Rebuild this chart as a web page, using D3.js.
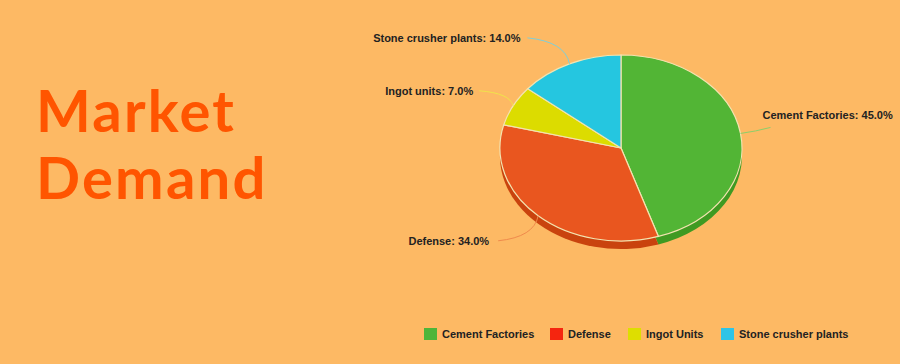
<!DOCTYPE html>
<html><head><meta charset="utf-8">
<script src="https://cdn.jsdelivr.net/npm/d3@7/dist/d3.min.js"></script>
<style>html,body{margin:0;padding:0;background:#fdb964;}svg{display:block}</style>
</head><body>
<script>
const categories = ["Cement Factories", "Defense", "Ingot units", "Stone crusher plants"];
const legendLabels = ["Cement Factories", "Defense", "Ingot Units", "Stone crusher plants"];
const values = [45.0, 34.0, 7.0, 14.0];
const sliceColors = ["#52b535", "#e9561f", "#dcdc00", "#25c6e0"];
const sideColors = ["#3f9a22", "#c9430e", "#b8b800", "#1aa3bb"];
const legendColors = ["#4db53a", "#f5250f", "#dede00", "#2ec4e6"];
const lineColors = ["#8ccf6a", "#f08a4c", "#f0e44a", "#7fcfd8"];

(function () {
const W = 900, H = 364;
const svg = d3.select("body").append("svg").attr("width", W).attr("height", H);
svg.append("rect").attr("width", W).attr("height", H).attr("fill", "#fdb964");

// Title
const title = svg.append("text").attr("fill", "#ff5500")
  .attr("font-family", "Lato, 'Open Sans', sans-serif").attr("font-weight", 700)
  .attr("font-size", 58).attr("letter-spacing", 2.2);
title.append("tspan").attr("x", 36).attr("y", 132).text("Market");
title.append("tspan").attr("x", 36).attr("y", 199).text("Demand");

// Pie
const cx = 621, cy = 148, rx = 121, ry = 93, depth = 8;
const pie = d3.pie().sort(null).value(d => d)(values);
const arc = d3.arc().innerRadius(0).outerRadius(1);

const sideG = svg.append("g").attr("transform", `translate(${cx},${cy + depth}) scale(${rx},${ry})`);
sideG.selectAll("path").data(pie).join("path")
  .attr("d", arc).attr("fill", (d, i) => sideColors[i]);

const topG = svg.append("g").attr("transform", `translate(${cx},${cy}) scale(${rx},${ry})`);
topG.selectAll("path").data(pie).join("path")
  .attr("d", arc).attr("fill", (d, i) => sliceColors[i])
  .attr("stroke", "#f3e3b0").attr("stroke-width", 1.2)
  .attr("vector-effect", "non-scaling-stroke");

// Labels with leader lines
const labelOffsets = [[30, -6], [-40, 25], [-34, -15], [-42, -26]];
const labelAnchors = ["start", "end", "end", "end"];
const labelNudge = [0, -3, 0, -1];
pie.forEach((d, i) => {
  const a = (d.startAngle + d.endAngle) / 2;
  const px = cx + rx * Math.sin(a), py = cy - ry * Math.cos(a);
  const lx = px + labelOffsets[i][0], ly = py + labelOffsets[i][1];
  const mx = i === 0 ? (px + lx) / 2 : px + (lx - px) * 0.1;
  const my = i === 0 ? (py + ly) / 2 + 1 : ly + (py - ly) * 0.15;
  svg.append("path")
    .attr("d", `M${px},${py} Q${mx},${my} ${lx},${ly}`)
    .attr("fill", "none").attr("stroke", lineColors[i]).attr("stroke-width", 1);
  svg.append("text")
    .attr("x", (labelAnchors[i] === "start" ? lx - 8 : lx - 6) + labelNudge[i])
    .attr("y", ly - (i === 0 ? 12 : 0))
    .attr("dy", "0.35em")
    .attr("text-anchor", labelAnchors[i])
    .attr("font-family", "'Liberation Sans', Arial, sans-serif")
    .attr("font-weight", "bold").attr("font-size", 11).attr("fill", "#222")
    .text(`${categories[i]}: ${values[i].toFixed(1)}%`);
});

// Legend
const legendX = [424, 550, 628, 721];
const lg = svg.append("g").attr("font-family", "'Liberation Sans', Arial, sans-serif")
  .attr("font-weight", "bold").attr("font-size", 11).attr("fill", "#222");
legendLabels.forEach((t, i) => {
  lg.append("rect").attr("x", legendX[i]).attr("y", 328).attr("width", 13).attr("height", 12)
    .attr("fill", legendColors[i]);
  lg.append("text").attr("x", legendX[i] + 18).attr("y", 334).attr("dy", "0.35em").text(t);
});
})();
</script>
</body></html>
